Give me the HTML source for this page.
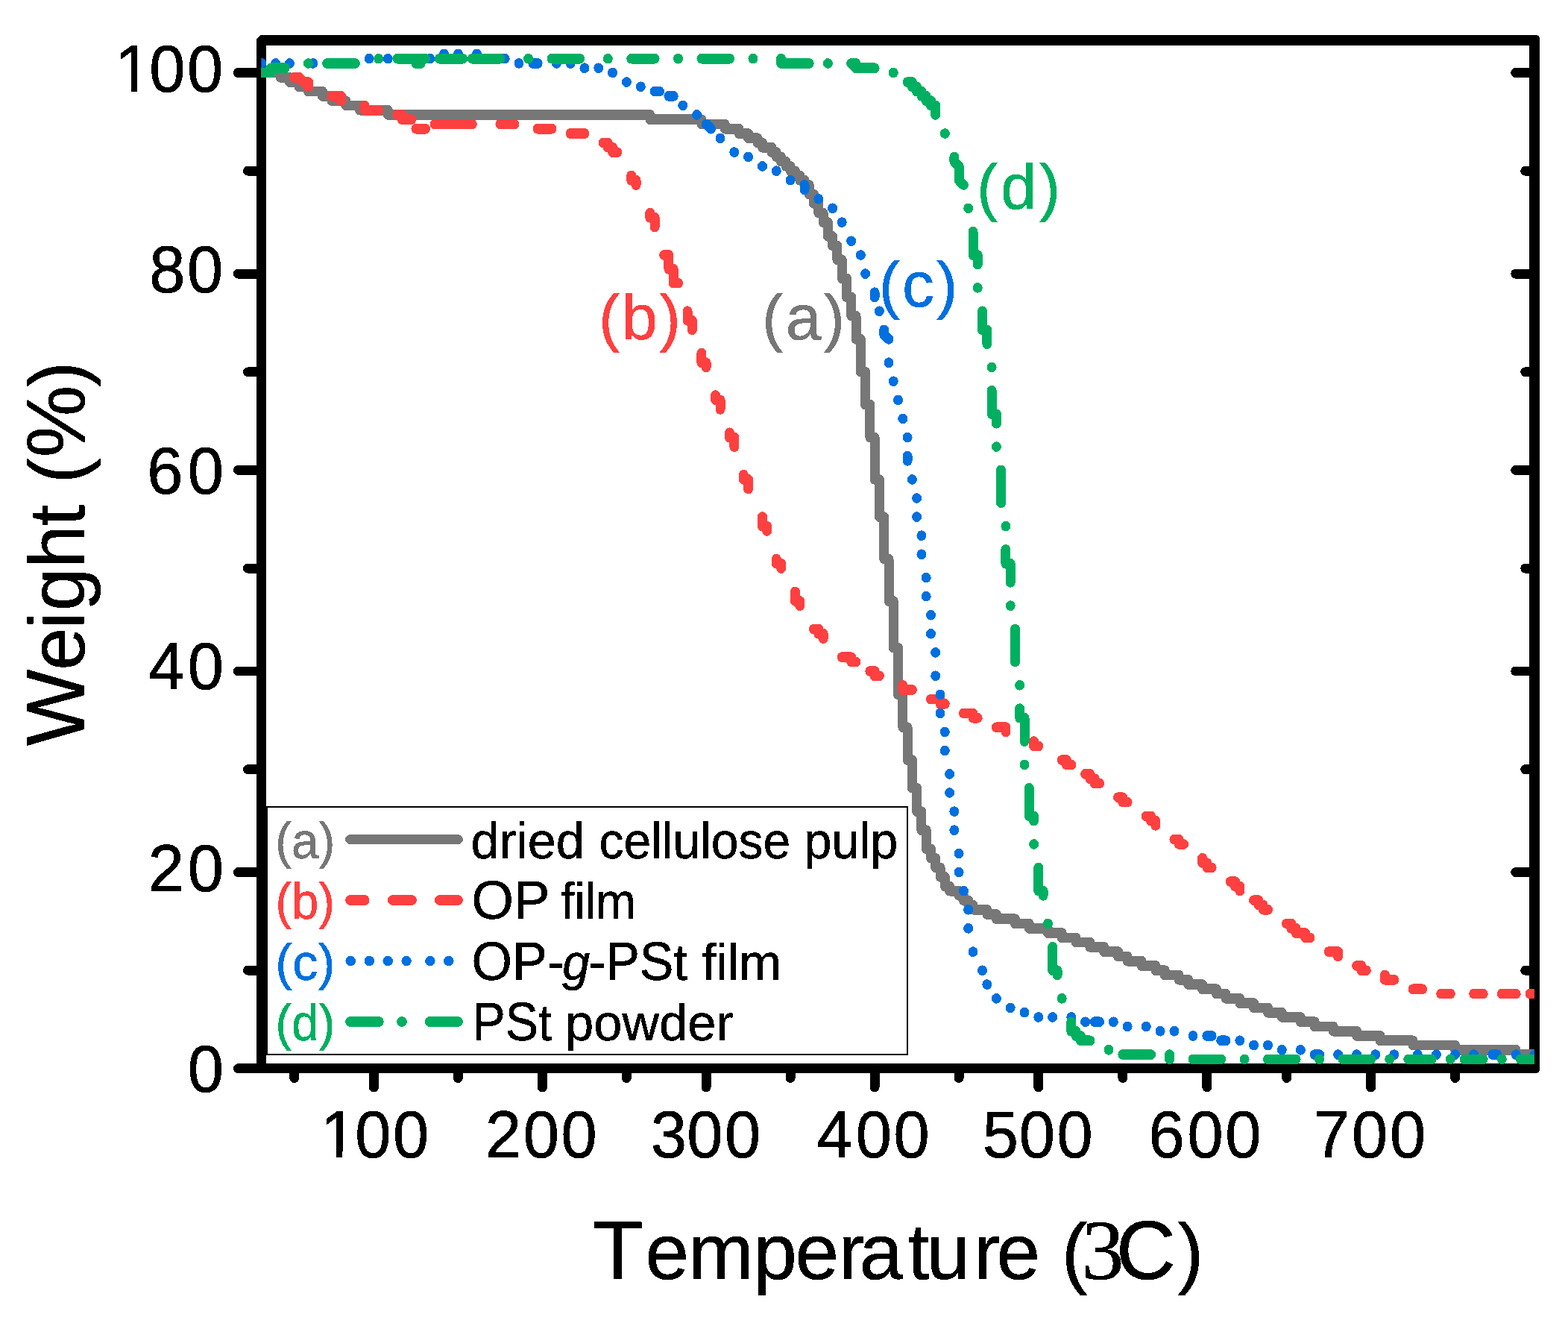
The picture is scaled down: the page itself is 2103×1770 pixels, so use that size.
<!DOCTYPE html>
<html lang="en"><head><meta charset="utf-8"><meta name="viewport" content="width=2103"><title>TGA curves</title>
<style>html,body{margin:0;padding:0;background:#fff;width:2103px;height:1770px}svg{display:block}text{font-family:"Liberation Sans",sans-serif;white-space:pre}.s{font-family:"Liberation Serif",serif}</style>
</head><body>
<svg width="2103" height="1770" viewBox="0 0 2103 1770" role="img" aria-label="TGA curves: weight (%) versus temperature">
<rect x="0" y="0" width="2103" height="1770" fill="#fff"/>
<path fill="#000" fill-rule="evenodd" shape-rendering="crispEdges" d="M349.5 47 H2059.5 Q2065 47 2065 52.5 V1433.5 Q2065 1439 2059.5 1439 H344 V52.5 Z M357 61 V1426 H2051 V61 Z"/>
<g stroke="#000" stroke-width="12.9" stroke-linecap="round" fill="none" shape-rendering="crispEdges">
<path d="M319.4 97.5 H350.0"/>
<path d="M2032.7 97.5 H2058.0"/>
<path d="M319.4 367.1 H350.0"/>
<path d="M2032.7 367.1 H2058.0"/>
<path d="M319.4 630.4 H350.0"/>
<path d="M2032.7 630.4 H2058.0"/>
<path d="M319.4 900.0 H350.0"/>
<path d="M2032.7 900.0 H2058.0"/>
<path d="M319.4 1169.6 H350.0"/>
<path d="M2032.7 1169.6 H2058.0"/>
<path d="M319.4 1432.7 H350.0"/>
<path d="M332.4 229.2 H350.0"/>
<path d="M2045.7 229.2 H2058.0"/>
<path d="M332.4 498.8 H350.0"/>
<path d="M2045.7 498.8 H2058.0"/>
<path d="M332.4 762.1 H350.0"/>
<path d="M2045.7 762.1 H2058.0"/>
<path d="M332.4 1031.7 H350.0"/>
<path d="M2045.7 1031.7 H2058.0"/>
<path d="M332.4 1301.2 H350.0"/>
<path d="M2045.7 1301.2 H2058.0"/>
<path d="M501.4 1433.0 V1458.0"/>
<path d="M727.4 1433.0 V1458.0"/>
<path d="M947.1 1433.0 V1458.0"/>
<path d="M1173.1 1433.0 V1458.0"/>
<path d="M1392.8 1433.0 V1458.0"/>
<path d="M1618.8 1433.0 V1458.0"/>
<path d="M1838.6 1433.0 V1458.0"/>
<path d="M394.7 1433.0 V1445.5"/>
<path d="M614.4 1433.0 V1445.5"/>
<path d="M840.4 1433.0 V1445.5"/>
<path d="M1060.1 1433.0 V1445.5"/>
<path d="M1286.1 1433.0 V1445.5"/>
<path d="M1505.8 1433.0 V1445.5"/>
<path d="M1725.6 1433.0 V1445.5"/>
<path d="M1951.6 1433.0 V1445.5"/>
</g>
<path fill="#000" fill-rule="evenodd" shape-rendering="crispEdges" d="M357 1081H1218V1415H357Z M359 1083V1413H1216V1083Z"/>
<clipPath id="plot"><rect x="350.3" y="54" width="1707.7" height="1378.5"/></clipPath>
<g clip-path="url(#plot)"><g transform="scale(1 1.05385)" shape-rendering="crispEdges" fill="none" stroke-linecap="round" stroke-linejoin="round" stroke-width="13">
<path stroke="#777777" d="M350.8 92.52 L375.9 92.52 L375.9 98.47 L388.4 98.47 L388.4 104.42 L401.0 104.42 L401.0 110.37 L413.5 110.37 L413.5 116.32 L432.4 116.32 L432.4 122.27 L444.9 122.27 L444.9 128.22 L463.8 128.22 L463.8 134.16 L482.6 134.16 L482.6 140.11 L520.3 140.11 L520.3 146.06 L871.8 146.06 L871.8 152.01 L940.9 152.01 L940.9 157.96 L972.3 157.96 L972.3 163.91 L991.1 163.91 L991.1 169.86 L1003.6 169.86 L1003.6 175.81 L1016.2 175.81 L1016.2 181.76 L1022.5 181.76 L1022.5 187.71 L1035.0 187.71 L1035.0 193.66 L1041.3 193.66 L1041.3 199.61 L1047.6 199.61 L1047.6 205.55 L1053.9 205.55 L1053.9 211.50 L1060.1 211.50 L1060.1 217.45 L1066.4 217.45 L1066.4 223.40 L1072.7 223.40 L1072.7 229.35 L1079.0 229.35 L1079.0 235.30 L1085.2 235.30 L1085.2 247.20 L1091.5 247.20 L1091.5 259.10 L1097.8 259.10 L1097.8 271.00 L1104.1 271.00 L1104.1 282.89 L1110.4 282.89 L1110.4 300.74 L1116.6 300.74 L1116.6 312.64 L1122.9 312.64 L1122.9 330.49 L1129.2 330.49 L1129.2 354.28 L1135.5 354.28 L1135.5 378.08 L1141.7 378.08 L1141.7 401.88 L1148.0 401.88 L1148.0 431.62 L1154.3 431.62 L1154.3 473.27 L1160.6 473.27 L1160.6 514.91 L1166.9 514.91 L1166.9 556.56 L1173.1 556.56 L1173.1 610.10 L1179.4 610.10 L1179.4 657.69 L1185.7 657.69 L1185.7 711.23 L1192.0 711.23 L1192.0 764.78 L1198.2 764.78 L1198.2 824.27 L1204.5 824.27 L1204.5 883.76 L1210.8 883.76 L1210.8 925.40 L1217.1 925.40 L1217.1 967.05 L1223.4 967.05 L1223.4 1002.74 L1229.6 1002.74 L1229.6 1032.49 L1235.9 1032.49 L1235.9 1056.28 L1242.2 1056.28 L1242.2 1080.08 L1248.5 1080.08 L1248.5 1091.98 L1254.7 1091.98 L1254.7 1103.88 L1261.0 1103.88 L1261.0 1115.78 L1267.3 1115.78 L1267.3 1127.67 L1273.6 1127.67 L1273.6 1133.62 L1286.1 1133.62 L1286.1 1139.57 L1292.4 1139.57 L1292.4 1145.52 L1298.7 1145.52 L1298.7 1151.47 L1305.0 1151.47 L1305.0 1157.42 L1323.8 1157.42 L1323.8 1163.37 L1336.4 1163.37 L1336.4 1169.32 L1361.5 1169.32 L1361.5 1175.27 L1380.3 1175.27 L1380.3 1181.22 L1405.4 1181.22 L1405.4 1187.17 L1424.2 1187.17 L1424.2 1193.12 L1443.1 1193.12 L1443.1 1199.06 L1461.9 1199.06 L1461.9 1205.01 L1480.7 1205.01 L1480.7 1210.96 L1499.6 1210.96 L1499.6 1216.91 L1512.1 1216.91 L1512.1 1222.86 L1531.0 1222.86 L1531.0 1228.81 L1549.8 1228.81 L1549.8 1234.76 L1562.3 1234.76 L1562.3 1240.71 L1581.2 1240.71 L1581.2 1246.66 L1593.7 1246.66 L1593.7 1252.61 L1612.6 1252.61 L1612.6 1258.56 L1631.4 1258.56 L1631.4 1264.51 L1644.0 1264.51 L1644.0 1270.45 L1662.8 1270.45 L1662.8 1276.40 L1681.6 1276.40 L1681.6 1282.35 L1700.5 1282.35 L1700.5 1288.30 L1719.3 1288.30 L1719.3 1294.25 L1744.4 1294.25 L1744.4 1300.20 L1763.2 1300.20 L1763.2 1306.15 L1788.3 1306.15 L1788.3 1312.10 L1819.7 1312.10 L1819.7 1318.05 L1851.1 1318.05 L1851.1 1324.00 L1895.1 1324.00 L1895.1 1329.95 L1951.6 1329.95 L1951.6 1335.90 L2033.2 1335.90 L2033.2 1341.84 L2064.6 1341.84"/>
<path stroke="#ff4040" d="M350.8 92.52 L357.0 92.52 M394.7 98.47 L401.0 98.47 L407.3 104.42 L413.5 104.42 L413.5 110.37 M444.9 122.27 L457.5 122.27 L457.5 128.22 L451.2 122.27 M488.9 134.16 L488.9 140.11 L507.7 140.11 M532.8 146.06 L539.1 146.06 L539.1 152.01 L551.7 152.01 M557.9 163.91 L570.5 163.91 M583.0 157.96 L633.3 157.96 M670.9 157.96 L689.8 157.96 M721.1 163.91 L740.0 163.91 M765.1 169.86 L783.9 169.86 M809.0 181.76 L815.3 181.76 L815.3 187.71 L821.6 187.71 L821.6 193.66 L827.9 193.66 M846.7 223.40 L846.7 229.35 L853.0 229.35 L853.0 235.30 M871.8 271.00 L871.8 276.94 L878.1 276.94 L878.1 288.84 M890.6 324.54 L896.9 324.54 L896.9 342.39 L903.2 342.39 L903.2 360.23 L909.5 360.23 M922.0 395.93 L922.0 407.83 L928.3 407.83 L928.3 419.72 M940.9 449.47 L940.9 461.37 L947.1 461.37 L947.1 467.32 M959.7 503.01 L959.7 508.96 L966.0 508.96 L966.0 520.86 M978.5 550.61 L978.5 556.56 L984.8 556.56 L984.8 568.45 M997.4 604.15 L997.4 610.10 L1003.6 610.10 L1003.6 622.00 M1022.5 657.69 L1022.5 669.59 L1028.7 669.59 L1028.7 675.54 M1041.3 711.23 L1041.3 717.18 L1047.6 717.18 L1047.6 723.13 M1066.4 752.88 L1066.4 764.78 L1072.7 764.78 L1072.7 770.72 M1091.5 800.47 L1097.8 800.47 L1097.8 806.42 L1104.1 806.42 L1104.1 812.37 M1129.2 836.17 L1141.7 836.17 L1141.7 842.11 L1148.0 842.11 M1166.9 854.01 L1173.1 854.01 L1173.1 859.96 L1179.4 859.96 M1210.8 871.86 L1210.8 877.81 L1223.4 877.81 M1248.5 889.71 L1261.0 889.71 L1261.0 895.66 L1267.3 895.66 M1292.4 907.56 L1305.0 907.56 L1305.0 913.50 L1311.2 913.50 M1336.4 925.40 L1348.9 925.40 L1348.9 931.35 M1386.6 943.25 L1386.6 949.20 L1392.8 949.20 M1424.2 967.05 L1430.5 967.05 L1430.5 973.00 L1436.8 973.00 M1455.6 984.89 L1461.9 984.89 L1461.9 990.84 L1468.2 990.84 L1468.2 996.79 L1474.5 996.79 M1499.6 1014.64 L1505.8 1014.64 L1505.8 1020.59 L1512.1 1020.59 M1537.2 1038.44 L1543.5 1038.44 L1543.5 1044.39 L1549.8 1044.39 L1549.8 1050.34 M1574.9 1068.18 L1581.2 1068.18 L1581.2 1074.13 L1587.5 1074.13 M1612.6 1091.98 L1612.6 1097.93 L1618.8 1097.93 L1618.8 1103.88 L1625.1 1103.88 M1650.2 1121.73 L1656.5 1121.73 L1656.5 1127.67 L1662.8 1127.67 L1662.8 1133.62 M1681.6 1145.52 L1687.9 1145.52 L1687.9 1151.47 L1694.2 1151.47 L1694.2 1157.42 L1700.5 1157.42 M1725.6 1175.27 L1731.8 1175.27 L1731.8 1181.22 L1738.1 1181.22 L1738.1 1187.17 L1750.7 1187.17 L1750.7 1193.12 L1757.0 1193.12 M1782.1 1210.96 L1794.6 1210.96 L1794.6 1216.91 M1819.7 1228.81 L1826.0 1228.81 L1826.0 1234.76 L1832.3 1234.76 M1857.4 1240.71 L1857.4 1246.66 L1869.9 1246.66 M1895.1 1258.56 L1907.6 1258.56 M1932.7 1264.51 L1945.3 1264.51 M1976.7 1264.51 L1989.2 1264.51 M2014.3 1264.51 L2033.2 1264.51 M2052.0 1264.51 L2064.6 1264.51"/>
<path stroke="#0070e0" stroke-width="13" d="M350.8 80.62 h0.01 M369.6 80.62 h0.01 M388.4 80.62 h0.01 M419.8 80.62 h0.01 M495.2 74.67 h0.01 M520.3 74.67 h0.01 M576.8 74.67 h0.01 M595.6 68.72 h0.01 M614.4 68.72 h0.01 M639.5 68.72 h0.01 M677.2 74.67 h0.01 M696.0 80.62 h0.01 M714.9 80.62 L721.1 80.62 M746.3 80.62 h0.01 M765.1 80.62 h0.01 M783.9 86.57 h0.01 M802.8 86.57 h0.01 M821.6 92.52 h0.01 M840.4 104.42 h0.01 M859.3 110.37 h0.01 M878.1 116.32 L884.4 116.32 M896.9 122.27 L903.2 122.27 M915.8 134.16 h0.01 M934.6 146.06 h0.01 M947.1 157.96 L953.4 163.91 M966.0 175.81 h0.01 M984.8 193.66 h0.01 M1003.6 199.61 h0.01 M1022.5 211.50 h0.01 M1041.3 217.45 h0.01 M1060.1 229.35 h0.01 M1079.0 235.30 L1079.0 241.25 M1097.8 253.15 h0.01 M1116.6 265.05 h0.01 M1129.2 282.89 h0.01 M1141.7 306.69 h0.01 M1154.3 324.54 h0.01 M1160.6 348.33 h0.01 M1173.1 372.13 L1173.1 378.08 M1179.4 395.93 h0.01 M1185.7 419.72 L1185.7 425.67 L1192.0 431.62 M1192.0 461.37 h0.01 M1198.2 485.17 h0.01 M1204.5 508.96 h0.01 M1210.8 532.76 h0.01 M1217.1 556.56 h0.01 M1217.1 580.35 L1217.1 586.30 M1223.4 610.10 h0.01 M1229.6 633.89 h0.01 M1229.6 657.69 h0.01 M1235.9 681.49 h0.01 M1235.9 705.28 h0.01 M1242.2 735.03 h0.01 M1242.2 758.83 h0.01 M1248.5 782.62 h0.01 M1248.5 806.42 h0.01 M1254.7 830.22 h0.01 M1254.7 859.96 h0.01 M1261.0 883.76 h0.01 M1261.0 907.56 h0.01 M1267.3 931.35 h0.01 M1267.3 955.15 h0.01 M1273.6 984.89 h0.01 M1273.6 1008.69 h0.01 M1279.9 1032.49 h0.01 M1279.9 1056.28 h0.01 M1286.1 1086.03 h0.01 M1286.1 1109.83 h0.01 M1292.4 1133.62 h0.01 M1298.7 1157.42 h0.01 M1298.7 1181.22 h0.01 M1305.0 1210.96 h0.01 M1317.5 1234.76 h0.01 M1323.8 1252.61 h0.01 M1336.4 1270.45 h0.01 M1355.2 1282.35 h0.01 M1374.0 1288.30 h0.01 M1392.8 1294.25 h0.01 M1411.7 1294.25 h0.01 M1436.8 1294.25 h0.01 M1455.6 1300.20 h0.01 M1468.2 1300.20 L1474.5 1300.20 M1493.3 1300.20 h0.01 M1512.1 1306.15 h0.01 M1537.2 1306.15 h0.01 M1556.1 1312.10 h0.01 M1574.9 1312.10 h0.01 M1600.0 1318.05 h0.01 M1618.8 1318.05 L1625.1 1318.05 M1637.7 1324.00 L1644.0 1324.00 M1662.8 1324.00 h0.01 M1681.6 1329.95 h0.01 M1700.5 1329.95 h0.01 M1719.3 1335.90 h0.01 M1744.4 1335.90 h0.01 M1763.2 1341.84 L1769.5 1341.84 M1794.6 1341.84 h0.01 M1819.7 1341.84 h0.01 M1844.8 1341.84 h0.01 M1869.9 1341.84 h0.01 M1901.3 1341.84 h0.01 M1926.4 1341.84 h0.01 M1951.6 1341.84 h0.01 M1976.7 1341.84 h0.01 M2001.8 1341.84 L2008.1 1341.84 M2033.2 1341.84 h0.01 M2058.3 1341.84 h0.01"/>
<path stroke="#00b060" d="M350.8 92.52 L363.3 92.52 M357.0 92.52 L363.3 86.57 L382.2 86.57 M413.5 80.62 h0.01 M438.7 80.62 L476.3 80.62 M507.7 74.67 h0.01 M532.8 74.67 L557.9 74.67 L557.9 80.62 L564.2 80.62 L564.2 74.67 L570.5 74.67 M589.3 74.67 L620.7 74.67 M633.3 74.67 L670.9 74.67 M708.6 74.67 h0.01 M740.0 74.67 L777.6 74.67 M815.3 74.67 h0.01 M846.7 74.67 L878.1 74.67 M909.5 74.67 h0.01 M940.9 74.67 L978.5 74.67 M1009.9 74.67 h0.01 M1047.6 74.67 L1047.6 80.62 L1085.2 80.62 M1110.4 80.62 h0.01 M1148.0 80.62 L1141.7 80.62 L1148.0 86.57 L1173.1 86.57 M1198.2 92.52 h0.01 M1217.1 104.42 L1223.4 104.42 L1223.4 110.37 L1229.6 110.37 L1229.6 116.32 L1235.9 116.32 L1235.9 122.27 L1242.2 122.27 L1242.2 128.22 L1248.5 128.22 L1248.5 134.16 L1254.7 134.16 L1254.7 146.06 M1267.3 169.86 h0.01 M1279.9 199.61 L1279.9 205.55 L1286.1 211.50 L1286.1 229.35 L1292.4 235.30 M1298.7 265.05 h0.01 M1305.0 294.79 L1305.0 324.54 L1311.2 324.54 L1311.2 336.44 M1311.2 366.18 h0.01 M1317.5 395.93 L1317.5 419.72 L1323.8 419.72 L1323.8 437.57 M1330.1 467.32 h0.01 M1330.1 497.06 L1330.1 526.81 L1336.4 526.81 L1336.4 538.71 M1336.4 568.45 h0.01 M1342.6 598.20 L1342.6 639.84 M1348.9 669.59 h0.01 M1348.9 699.33 L1348.9 717.18 L1355.2 717.18 L1355.2 740.98 M1355.2 770.72 h0.01 M1361.5 800.47 L1361.5 842.11 M1367.7 871.86 h0.01 M1367.7 901.61 L1367.7 913.50 L1374.0 913.50 L1374.0 943.25 M1374.0 973.00 h0.01 M1380.3 1002.74 L1380.3 1038.44 L1386.6 1038.44 L1386.6 1044.39 M1386.6 1074.13 h0.01 M1392.8 1103.88 L1392.8 1133.62 L1399.1 1133.62 L1399.1 1139.57 M1405.4 1175.27 h0.01 M1411.7 1205.01 L1411.7 1234.76 L1418.0 1234.76 L1418.0 1240.71 M1424.2 1270.45 h0.01 M1436.8 1300.20 L1436.8 1312.10 L1443.1 1312.10 L1443.1 1318.05 L1449.3 1318.05 L1449.3 1324.00 L1461.9 1324.00 M1487.0 1335.90 h0.01 M1505.8 1341.84 L1543.5 1341.84 M1568.6 1341.84 L1568.6 1347.79 M1600.0 1347.79 L1637.7 1347.79 M1669.1 1347.79 h0.01 M1700.5 1347.79 L1738.1 1347.79 M1769.5 1347.79 h0.01 M1800.9 1347.79 L1838.6 1347.79 M1863.7 1347.79 h0.01 M1888.8 1347.79 L1920.2 1347.79 M1945.3 1347.79 h0.01 M1964.1 1347.79 L1989.2 1347.79 M2014.3 1347.79 h0.01 M2039.4 1347.79 L2064.6 1347.79"/>
</g></g>
<g fill="none" stroke-linecap="round" shape-rendering="crispEdges">
<path stroke="#777777" stroke-width="12.8" d="M469.5 1125.6H614.5"/>
<path stroke="#ff4040" stroke-width="13.8" d="M470 1207H488.7M526.7 1207H552M589.8 1207H614"/>
<path stroke="#0070e0" stroke-width="13.5" d="M470.2 1288.6h0.01M495.3 1288.6h0.01M520.2 1288.6h0.01M545.1 1288.6h0.01M576.9 1288.6h0.01M601.8 1288.6h0.01"/>
<path stroke="#00b060" stroke-width="13.9" d="M470 1370H507.8M539 1370h0.01M576.6 1370H614"/>
</g>
<filter id="bin" filterUnits="userSpaceOnUse" x="0" y="0" width="2103" height="1770" color-interpolation-filters="sRGB"><feComponentTransfer><feFuncA type="discrete" tableValues="0 1"/></feComponentTransfer></filter>
<g filter="url(#bin)">
<text transform="translate(0 122.6) scale(0.965 1)" x="159.9 207.5 260.1" y="0" font-size="89.8" fill="#000" stroke="#000" stroke-width="0.8">100</text>
<path fill="#fff" shape-rendering="crispEdges" d="M158 115H176V125H158ZM184 115H202V125H184Z"/>
<text transform="translate(0 392.1) scale(0.965 1)" x="207.5 260.1" y="0" font-size="89.8" fill="#000" stroke="#000" stroke-width="0.8">80</text>
<text transform="translate(0 661.6) scale(0.965 1)" x="204.5 260.8" y="0" font-size="89.8" fill="#000" stroke="#000" stroke-width="0.8">60</text>
<text transform="translate(0 924.2) scale(0.965 1)" x="206.1 260.8" y="0" font-size="89.8" fill="#000" stroke="#000" stroke-width="0.8">40</text>
<text transform="translate(0 1194.8) scale(0.965 1)" x="205.9 260.9" y="0" font-size="89.8" fill="#000" stroke="#000" stroke-width="0.8">20</text>
<text transform="translate(0 1463.7) scale(0.965 1)" x="260.9" y="0" font-size="89.8" fill="#000" stroke="#000" stroke-width="0.8">0</text>
<text transform="translate(0 1551.8) scale(0.965 1)" x="445.3 493.5 546.1" y="0" font-size="89.8" fill="#000" stroke="#000" stroke-width="0.8">100</text>
<path fill="#fff" shape-rendering="crispEdges" d="M433 1544H451V1554H433ZM459 1544H477V1554H459Z"/>
<text transform="translate(0 1551.8) scale(0.965 1)" x="674.6 727.1 779.7" y="0" font-size="89.8" fill="#000" stroke="#000" stroke-width="0.8">200</text>
<text transform="translate(0 1551.8) scale(0.965 1)" x="904.3 954.6 1007.3" y="0" font-size="89.8" fill="#000" stroke="#000" stroke-width="0.8">300</text>
<text transform="translate(0 1551.8) scale(0.965 1)" x="1135.0 1189.3 1241.9" y="0" font-size="89.8" fill="#000" stroke="#000" stroke-width="0.8">400</text>
<text transform="translate(0 1551.8) scale(0.965 1)" x="1365.5 1416.3 1468.9" y="0" font-size="89.8" fill="#000" stroke="#000" stroke-width="0.8">500</text>
<text transform="translate(0 1551.8) scale(0.965 1)" x="1596.4 1650.2 1702.8" y="0" font-size="89.8" fill="#000" stroke="#000" stroke-width="0.8">600</text>
<text transform="translate(0 1551.8) scale(0.965 1)" x="1825.6 1878.9 1931.5" y="0" font-size="89.8" fill="#000" stroke="#000" stroke-width="0.8">700</text>
<text transform="translate(0 1715.2) scale(0.9909 1)" x="802.4 873.4 931.5 1019.6 1076.4 1135.0 1163.0 1228.6 1254.0 1317.9 1348.7 1399.2 1436.9 1464.2 1510.5 1593.7" y="0" font-size="112.1" fill="#000" stroke="#000" stroke-width="0.5">T<tspan font-size="106.49">e</tspan><tspan font-size="106.49">m</tspan><tspan font-size="106.49">p</tspan><tspan font-size="106.49">e</tspan><tspan font-size="106.49">r</tspan><tspan font-size="106.49">a</tspan><tspan font-size="106.49">t</tspan><tspan font-size="106.49">u</tspan><tspan font-size="106.49">r</tspan><tspan font-size="106.49">e</tspan> <tspan font-size="106.49">(</tspan><tspan font-size="114.9" font-family="Liberation Serif, serif">3</tspan>C<tspan font-size="106.49">)</tspan></text>
<text transform="translate(113.1 1000.2) rotate(-90) scale(0.9696 1)" x="0.0 104.5 161.9 186.7 246.0 304.2 354.6 362.7 398.8 496.0" y="0" font-size="112.1" fill="#000" stroke="#000" stroke-width="0.5">W<tspan font-size="106.49">e</tspan><tspan font-size="106.49">i</tspan><tspan font-size="106.49">g</tspan><tspan font-size="106.49">h</tspan><tspan font-size="106.49">t</tspan> <tspan font-size="106.49">(</tspan>%<tspan font-size="106.49">)</tspan></text>
<text transform="translate(369.15 1151) scale(0.9523 1)" font-size="68.8" fill="#777777" stroke="#777777" stroke-width="0.5">(a)</text>
<text transform="translate(369.59 1232) scale(0.943 1)" font-size="68.8" fill="#ff4040" stroke="#ff4040" stroke-width="0.5">(b)</text>
<text transform="translate(369.36 1313.9) scale(0.9965 1)" font-size="68.8" fill="#0070e0" stroke="#0070e0" stroke-width="0.5">(c)</text>
<text transform="translate(369.58 1394.9) scale(0.947 1)" font-size="68.8" fill="#00b060" stroke="#00b060" stroke-width="0.5">(d)</text>
<text transform="translate(631.61 1151) scale(0.9959 1)" font-size="68.8" fill="#000" stroke="#000" stroke-width="0.5">dried</text>
<text transform="translate(803.42 1151) scale(0.9593 1)" font-size="68.8" fill="#000" stroke="#000" stroke-width="0.5">cellulose</text>
<text transform="translate(1078.45 1151) scale(0.967 1)" font-size="68.8" fill="#000" stroke="#000" stroke-width="0.5">pulp</text>
<text transform="translate(632.45 1232) scale(1.0156 1)" font-size="71.5" fill="#000" stroke="#000" stroke-width="0.5">OP</text>
<text transform="translate(752.36 1232) scale(0.9379 1)" font-size="68.8" fill="#000" stroke="#000" stroke-width="0.5">film</text>
<text transform="translate(632.57 1313.9) scale(0.9793 1)" font-size="71.5" fill="#000" stroke="#000" stroke-width="0.5">OP-</text>
<text transform="translate(754.26 1313.9) scale(0.9664 1)" font-size="68.8" fill="#000" stroke="#000" stroke-width="0.5" font-style="italic">g</text>
<text transform="translate(789.39 1313.9) scale(0.9569 1)" font-size="68.8" fill="#000" stroke="#000" stroke-width="0.5"><tspan font-size="71.5">-PS</tspan>t</text>
<text transform="translate(941.5 1313.9) scale(0.9951 1)" font-size="68.8" fill="#000" stroke="#000" stroke-width="0.5">film</text>
<text transform="translate(633.57 1394.9) scale(0.9275 1)" font-size="68.8" fill="#000" stroke="#000" stroke-width="0.5"><tspan font-size="71.5">PS</tspan>t</text>
<text transform="translate(758.11 1394.9) scale(0.9986 1)" font-size="68.8" fill="#000" stroke="#000" stroke-width="0.5">powder</text>
<text transform="translate(803.05 455)" font-size="85.8" letter-spacing="2.43" fill="#ff4040" stroke="#ff4040" stroke-width="0.5">(b)</text>
<text transform="translate(1021.95 455)" font-size="85.8" letter-spacing="3.18" fill="#777777" stroke="#777777" stroke-width="0.5">(a)</text>
<text transform="translate(1178.75 410.8)" font-size="85.8" letter-spacing="2.77" fill="#0070e0" stroke="#0070e0" stroke-width="0.5">(c)</text>
<text transform="translate(1310.05 280.3)" font-size="85.8" letter-spacing="3.6" fill="#00b060" stroke="#00b060" stroke-width="0.5">(d)</text>
</g>
</svg>
</body></html>
